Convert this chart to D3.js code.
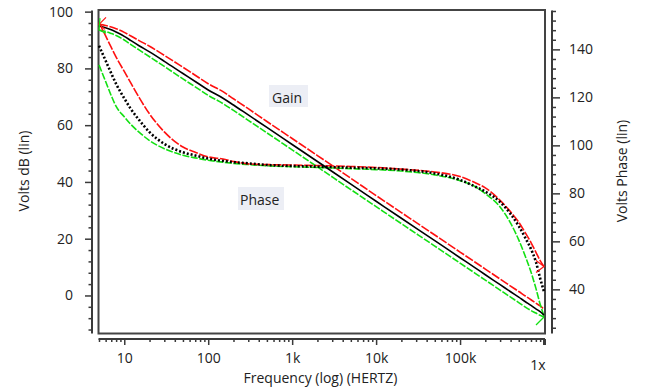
<!DOCTYPE html>
<html>
<head>
<meta charset="utf-8">
<script src="https://cdn.jsdelivr.net/npm/d3@7"></script>
<style>
  html, body { margin: 0; padding: 0; background: #fff; }
  svg { display: block; }
  text { font-family: "Open Sans", "Noto Sans", sans-serif; fill: #222; }
</style>
</head>
<body>
<svg id="chart" width="645" height="390"></svg>
<script>
// ---- data ----
const freq = [5,6,7,8,10,12,15,20,30,50,70,100,150,200,300,500,1e3,2e3,5e3,1e4,2e4,5e4,1e5,1.5e5,2e5,3e5,4e5,5e5,6e5,7e5,8e5,9e5,1e6];

const gainBlack = [95.0,94.3,93.6,92.8,91.3,89.8,88.0,85.8,82.5,78.2,75.4,72.4,69.5,67.1,63.6,59.2,53.2,47.2,39.2,33.2,27.2,19.3,13.3,9.8,7.3,3.8,1.3,-0.6,-2.2,-3.5,-4.7,-5.7,-6.9];
const gainRed   = [95.5,95.1,94.6,94.0,92.7,91.4,89.8,87.8,84.6,80.4,77.6,74.6,71.8,69.3,65.8,61.3,55.3,49.3,41.3,35.2,29.2,21.3,15.3,11.8,9.3,5.8,3.3,1.4,-0.2,-1.5,-2.7,-3.7,-4.8];
const gainGreen = [93.5,93.0,92.3,91.6,90.0,88.4,86.5,84.1,80.7,76.3,73.5,70.5,67.6,65.2,61.7,57.3,51.3,45.3,37.3,31.3,25.3,17.4,11.4,7.9,5.4,1.9,-0.6,-2.5,-4.1,-5.3,-6.2,-7.0,-7.6];

const phaseBlack = [141.5,135.3,130.0,125.6,119.6,115.1,110.6,105.5,100.6,97.1,95.8,94.5,93.5,93.0,92.5,91.8,91.4,91.1,90.7,90.4,89.9,88.3,85.6,82.9,80.7,76.4,71.4,66.4,61.4,56.8,51.5,44.6,39.0];
const phaseRed   = [151.2,145.6,140.8,136.8,130.8,125.9,120.0,113.1,105.6,99.3,97.1,95.2,94.3,93.3,92.3,92.0,91.8,91.6,91.2,90.8,90.1,88.9,87.0,84.5,82.3,77.1,72.3,68.0,63.5,59.5,55.5,52.0,49.5];
const phaseGreen = [133.5,126.6,120.7,116.2,111.9,108.7,105.5,102.0,98.6,95.9,94.8,93.8,93.0,92.5,92.0,91.5,91.1,90.8,90.3,89.9,89.3,87.7,85.3,82.9,79.9,74.3,67.6,60.6,53.7,47.2,40.5,33.8,28.9];

const leftTicks  = [0,20,40,60,80,100];
const rightTicks = [40,60,80,100,120,140];
const xMajorTicks = [10,100,1e3,1e4,1e5,1e6];
const xTickLabels = ["10","100","1k","10k","100k","1x"];

const xTitle = "Frequency (log) (HERTZ)";
const yLeftTitle = "Volts dB (lin)";
const yRightTitle = "Volts Phase (lin)";

// ---- layout ----
const svg = d3.select("#chart");
const plot = {left: 98.5, right: 545, top: 10, bottom: 333.5};

const x  = d3.scaleLog().domain([5, 1e6]).range([99, 544]);
const yL = d3.scaleLinear().domain([-13.4, 100.4]).range([333.5, 10.5]);
const yR = d3.scaleLinear().domain([21.6, 156.2]).range([333.5, 10.5]);

const axisColor = "#3a3a3a";
const fontSize = 14;

// frame
svg.append("rect")
  .attr("x", plot.left).attr("y", plot.top)
  .attr("width", plot.right - plot.left).attr("height", plot.bottom - plot.top)
  .attr("fill", "none").attr("stroke", "#444").attr("stroke-width", 2);

function styleAxis(g) {
  g.select(".domain").remove();
  g.selectAll(".tick line").attr("stroke", axisColor).attr("stroke-width", 1.5);
  g.selectAll("text").attr("font-size", fontSize).attr("fill", "#222")
    .attr("font-family", "\"Open Sans\", sans-serif");
}

// left axis
const leftMinor = d3.range(-12, 101, 4).filter(v => !leftTicks.includes(v));
const gL = svg.append("g").attr("transform", "translate(92,0)");
gL.append("line").attr("x1", 0).attr("x2", 0).attr("y1", 10.5).attr("y2", 333.5)
  .attr("stroke", axisColor).attr("stroke-width", 2);
gL.append("g").call(d3.axisLeft(yL).tickValues(leftMinor).tickSize(3.5).tickFormat(""))
  .call(styleAxis);
gL.append("g").call(d3.axisLeft(yL).tickValues(leftTicks).tickSize(7).tickPadding(12).tickFormat(d3.format("d")))
  .call(styleAxis);

// right axis
const rightMinor = d3.range(24, 157, 4).filter(v => !rightTicks.includes(v));
const gR = svg.append("g").attr("transform", "translate(552,0)");
gR.append("line").attr("x1", 0).attr("x2", 0).attr("y1", 10.5).attr("y2", 333.5)
  .attr("stroke", axisColor).attr("stroke-width", 2);
gR.append("g").call(d3.axisRight(yR).tickValues(rightMinor).tickSize(4).tickFormat(""))
  .call(styleAxis);
gR.append("g").call(d3.axisRight(yR).tickValues(rightTicks).tickSize(8).tickPadding(9).tickFormat(d3.format("d")))
  .call(styleAxis);

// bottom axis
const xMinor = x.ticks().filter(v => !xMajorTicks.includes(v));
const gB = svg.append("g").attr("transform", "translate(0,339)");
gB.append("line").attr("x1", 98.5).attr("x2", 545).attr("y1", 0).attr("y2", 0)
  .attr("stroke", axisColor).attr("stroke-width", 2);
gB.append("g").call(d3.axisBottom(x).tickValues(xMinor).tickSize(3).tickFormat(""))
  .call(styleAxis);
gB.append("g").call(d3.axisBottom(x).tickValues(xMajorTicks).tickSize(6).tickPadding(8)
    .tickFormat((d, i) => xTickLabels[i]))
  .call(styleAxis);
// last label "1x" sits lower and right-aligned at the end tick
gB.selectAll(".tick").filter(d => d === 1e6).each(function() {
  const t = d3.select(this);
  t.select("line").attr("stroke-width", 3);
  t.select("text").attr("text-anchor", "end").attr("dx", "1").attr("y", 21);
});

// axis titles
svg.append("text").attr("x", 320.5).attr("y", 383).attr("text-anchor", "middle")
  .attr("font-size", fontSize).text(xTitle);
svg.append("text").attr("transform", "translate(29,171) rotate(-90)").attr("text-anchor", "middle")
  .attr("font-size", fontSize).text(yLeftTitle);
svg.append("text").attr("transform", "translate(627,171) rotate(-90)").attr("text-anchor", "middle")
  .attr("font-size", fontSize).text(yRightTitle);

// curves
const layer = svg.append("g");
function lineFor(yScale) {
  return d3.line().x((d, i) => x(freq[i])).y(d => yScale(d)).curve(d3.curveMonotoneX);
}
const series = [
  {vals: gainGreen,  scale: yL, color: "#13e013", w: 1.6, dash: "7,1.6"},
  {vals: gainRed,    scale: yL, color: "#ff1010", w: 1.6, dash: "9,1.6"},
  {vals: phaseGreen, scale: yR, color: "#13e013", w: 1.6, dash: "7,1.6"},
  {vals: phaseRed,   scale: yR, color: "#ff1010", w: 1.6, dash: "9,1.6"},
  {vals: gainBlack,  scale: yL, color: "#000",    w: 1.6, dash: null},
  {vals: phaseBlack, scale: yR, color: "#000",    w: 2.6, dash: "2,2"}
];
series.forEach(s => {
  layer.append("path").datum(s.vals)
    .attr("d", lineFor(s.scale))
    .attr("fill", "none").attr("stroke", s.color).attr("stroke-width", s.w)
    .attr("stroke-dasharray", s.dash);
});

// small end markers
function chevron(px, py, pts, color) {
  layer.append("path")
    .attr("d", d3.line()(pts.map(p => [px + p[0], py + p[1]])))
    .attr("fill", "none").attr("stroke", color).attr("stroke-width", 1.2);
}
const n = freq.length - 1;
chevron(x(freq[0]), yL(gainRed[0]), [[7,-7],[0,0],[6,5]], "#ff1010");
chevron(x(freq[0]), yL(gainGreen[0]), [[1,-12],[0,0],[7,3]], "#13e013");
chevron(x(freq[n]), yR(phaseRed[n]), [[-8,-6],[0,0],[-8,6]], "#ff1010");
chevron(x(freq[n]), yL(gainGreen[n]), [[-8,8],[0,0]], "#13e013");

// annotations
function note(label, bx, by, bw, bh, tx, ty) {
  svg.append("rect").attr("x", bx).attr("y", by).attr("width", bw).attr("height", bh)
    .attr("fill", "#eceef5");
  svg.append("text").attr("x", tx).attr("y", ty).attr("font-size", fontSize).text(label);
}
note("Gain", 269, 85, 39, 22, 272, 103);
note("Phase", 238, 187, 46, 23, 240, 205);
</script>
</body>
</html>
